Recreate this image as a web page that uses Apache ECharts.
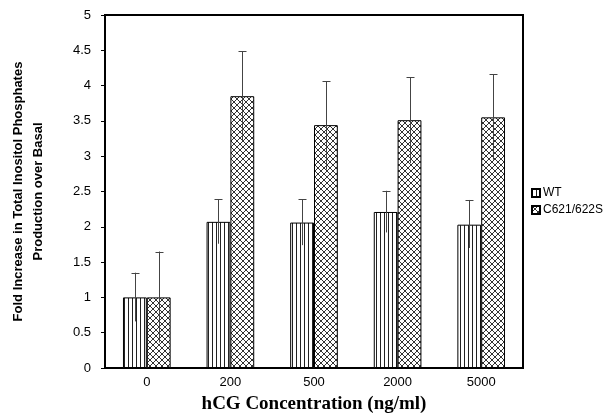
<!DOCTYPE html>
<html>
<head>
<meta charset="utf-8">
<script src="https://cdn.jsdelivr.net/npm/echarts@6/dist/echarts.min.js"></script>
<style>
  html, body { margin: 0; padding: 0; background: #fff; }
  #chart { width: 608px; height: 420px; }
</style>
</head>
<body>
<div id="chart"></div>
<script>
var concentrations = ['0', '200', '500', '2000', '5000'];
var wtValues = [1.00, 2.07, 2.06, 2.21, 2.03];
var wtLow = [0.66, 1.76, 1.74, 1.92, 1.70];
var wtHigh = [1.35, 2.39, 2.39, 2.51, 2.38];
var mutValues = [1.00, 3.85, 3.44, 3.51, 3.55];
var mutLow = [0.36, 3.22, 2.81, 2.90, 2.95];
var mutHigh = [1.65, 4.49, 4.06, 4.12, 4.16];
var yTicks = [0, 0.5, 1, 1.5, 2, 2.5, 3, 3.5, 4, 4.5, 5];

var barFrac = 0.285;

function makeStripes() {
    var c = document.createElement('canvas');
    c.width = 4; c.height = 4;
    var ctx = c.getContext('2d');
    ctx.fillStyle = '#fff';
    ctx.fillRect(0, 0, 4, 4);
    ctx.fillStyle = '#222';
    ctx.fillRect(0, 0, 1, 4);
    return c;
}

function makeHatch() {
    var c = document.createElement('canvas');
    c.width = 6; c.height = 6;
    var ctx = c.getContext('2d');
    ctx.fillStyle = '#fff';
    ctx.fillRect(0, 0, 6, 6);
    ctx.strokeStyle = '#333';
    ctx.lineWidth = 1;
    ctx.beginPath();
    ctx.moveTo(0, 0); ctx.lineTo(6, 6);
    ctx.moveTo(6, 0); ctx.lineTo(0, 6);
    ctx.stroke();
    return c;
}

function errorData(low, high) {
    return low.map(function (lo, i) { return [i, lo, high[i]]; });
}

function renderError(side) {
    return function (params, api) {
        var i = api.value(0);
        var lo = api.coord([i, api.value(1)]);
        var hi = api.coord([i, api.value(2)]);
        var band = api.size([1, 0])[0];
        var x = Math.round(lo[0] + side * band * barFrac / 2) + 0.5;
        var cap = 4;
        var st = { stroke: '#444', lineWidth: 1 };
        return {
            type: 'group',
            children: [
                { type: 'line', shape: { x1: x, y1: lo[1], x2: x, y2: hi[1] }, style: st },
                { type: 'line', shape: { x1: x - cap, y1: Math.round(hi[1]) + 0.5, x2: x + cap, y2: Math.round(hi[1]) + 0.5 }, style: st }
            ]
        };
    };
}

var chart = echarts.init(document.getElementById('chart'));
var wtFill = { image: makeStripes(), repeat: 'repeat' };
var mutFill = { image: makeHatch(), repeat: 'repeat' };

chart.setOption({
    animation: false,
    grid: {
        left: 104, right: 85, top: 15, bottom: 52,
        show: true, borderColor: '#000', borderWidth: 2
    },
    legend: {
        orient: 'vertical',
        left: 531, top: 187,
        itemWidth: 8, itemHeight: 8, itemGap: 5,
        padding: 0,
        icon: 'rect',
        textStyle: { fontFamily: 'Liberation Sans, Arial', fontSize: 12, color: '#000', padding: [0, 0, 0, -2] },
        data: ['WT', 'C621/622S']
    },
    xAxis: {
        type: 'category',
        data: concentrations,
        axisLine: { lineStyle: { color: '#000', width: 2 } },
        axisTick: { show: false },
        axisLabel: { fontFamily: 'Liberation Sans, Arial', fontSize: 13, color: '#000', margin: 8 },
        name: 'hCG Concentration (ng/ml)',
        nameLocation: 'middle',
        nameGap: 27,
        nameTextStyle: { fontFamily: 'Liberation Serif, Times New Roman', fontWeight: 'bold', fontSize: 19, color: '#000' }
    },
    yAxis: {
        type: 'value',
        min: yTicks[0], max: yTicks[yTicks.length - 1], interval: 0.5,
        axisLine: { show: true, lineStyle: { color: '#000', width: 2 } },
        axisTick: { show: true, length: 4, lineStyle: { color: '#000' } },
        splitLine: { show: false },
        axisLabel: { fontFamily: 'Liberation Sans, Arial', fontSize: 13, color: '#000', margin: 14 },
        name: 'Fold Increase in Total Inositol Phosphates\nProduction over Basal',
        nameLocation: 'middle',
        nameGap: 57,
        nameTextStyle: { fontFamily: 'Liberation Sans, Arial', fontWeight: 'bold', fontSize: 13, color: '#000', lineHeight: 20 }
    },
    series: [
        {
            name: 'WT', type: 'bar', data: wtValues,
            barWidth: (barFrac * 100) + '%', barGap: '0%',
            itemStyle: { color: wtFill, borderColor: '#000', borderWidth: 1 }
        },
        {
            name: 'C621/622S', type: 'bar', data: mutValues,
            barWidth: (barFrac * 100) + '%', barGap: '0%',
            itemStyle: { color: mutFill, borderColor: '#000', borderWidth: 1 }
        },
        {
            type: 'custom', renderItem: renderError(-1), data: errorData(wtLow, wtHigh), z: 5,
            encode: { x: 0, y: [1, 2] }, silent: true
        },
        {
            type: 'custom', renderItem: renderError(1), data: errorData(mutLow, mutHigh), z: 5,
            encode: { x: 0, y: [1, 2] }, silent: true
        }
    ]
});
</script>
</body>
</html>
